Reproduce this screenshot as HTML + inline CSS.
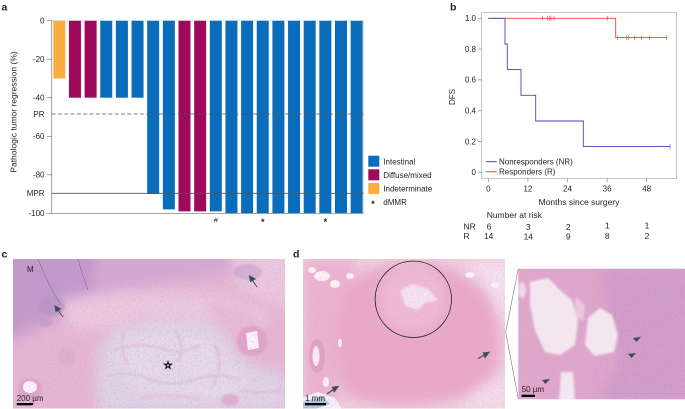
<!DOCTYPE html>
<html><head><meta charset="utf-8"><style>
html,body{margin:0;padding:0;background:#fff;}
svg{display:block;}
text{font-family:"Liberation Sans",Arial,sans-serif;fill:#231f20;}
</style></head><body>
<svg width="685" height="409" viewBox="0 0 685 409" xmlns="http://www.w3.org/2000/svg">
<defs>
  <filter id="b1" x="-20%" y="-20%" width="140%" height="140%"><feGaussianBlur stdDeviation="1"/></filter>
  <filter id="b3" x="-20%" y="-20%" width="140%" height="140%"><feGaussianBlur stdDeviation="3"/></filter>
  <filter id="b6" x="-20%" y="-20%" width="140%" height="140%"><feGaussianBlur stdDeviation="6"/></filter>
  <filter id="tex" x="0" y="0" width="100%" height="100%">
    <feTurbulence type="fractalNoise" baseFrequency="0.55" numOctaves="2" seed="4"/>
    <feColorMatrix type="matrix" values="0 0 0 0 0.62  0 0 0 0 0.35  0 0 0 0 0.62  3 0 0 0 -1.35"/>
  </filter>
  <filter id="dots" x="0" y="0" width="100%" height="100%">
    <feTurbulence type="fractalNoise" baseFrequency="0.9" numOctaves="1" seed="9"/>
    <feColorMatrix type="matrix" values="0 0 0 0 0.45  0 0 0 0 0.25  0 0 0 0 0.58  3 0 0 0 -1.5"/>
  </filter>
  <linearGradient id="gfade" x1="0" y1="0" x2="1" y2="0">
    <stop offset="0" stop-color="#fff" stop-opacity="0.15"/>
    <stop offset="0.4" stop-color="#fff" stop-opacity="0.4"/>
    <stop offset="0.6" stop-color="#fff" stop-opacity="1"/>
    <stop offset="1" stop-color="#fff" stop-opacity="1"/>
  </linearGradient>
  <mask id="mfade"><rect x="518" y="268" width="168" height="132" fill="url(#gfade)"/></mask>
  <clipPath id="cc"><rect x="13" y="259" width="272" height="149.5"/></clipPath>
  <clipPath id="cd1"><rect x="303" y="259" width="202" height="149.5"/></clipPath>
  <clipPath id="cd2"><rect x="518.3" y="268.7" width="166.7" height="130.6"/></clipPath>
</defs>

<!-- ============ Panel a ============ -->
<text x="1.5" y="10.5" font-size="10.5" font-weight="bold">a</text>
<g>
<rect x="53.3" y="20.7" width="12" height="57.8" fill="#f9ae3d"/>
<rect x="68.95" y="20.7" width="12" height="77" fill="#9e0a5b"/>
<rect x="84.6" y="20.7" width="12" height="77" fill="#9e0a5b"/>
<rect x="100.25" y="20.7" width="12" height="77" fill="#0a6dbb"/>
<rect x="115.9" y="20.7" width="12" height="77" fill="#0a6dbb"/>
<rect x="131.55" y="20.7" width="12" height="77" fill="#0a6dbb"/>
<rect x="147.2" y="20.7" width="12" height="173.3" fill="#0a6dbb"/>
<rect x="162.85" y="20.7" width="12" height="188.7" fill="#0a6dbb"/>
<rect x="178.5" y="20.7" width="12" height="190.7" fill="#9e0a5b"/>
<rect x="194.15" y="20.7" width="12" height="190.7" fill="#9e0a5b"/>
<rect x="209.8" y="20.7" width="12" height="190.7" fill="#0a6dbb"/>
<rect x="225.45" y="20.7" width="12" height="192.6" fill="#0a6dbb"/>
<rect x="241.1" y="20.7" width="12" height="192.6" fill="#0a6dbb"/>
<rect x="256.75" y="20.7" width="12" height="192.6" fill="#0a6dbb"/>
<rect x="272.4" y="20.7" width="12" height="192.6" fill="#0a6dbb"/>
<rect x="288.05" y="20.7" width="12" height="192.6" fill="#0a6dbb"/>
<rect x="303.7" y="20.7" width="12" height="192.6" fill="#0a6dbb"/>
<rect x="319.35" y="20.7" width="12" height="192.6" fill="#0a6dbb"/>
<rect x="335" y="20.7" width="12" height="192.6" fill="#0a6dbb"/>
<rect x="350.65" y="20.7" width="12" height="192.6" fill="#0a6dbb"/>
</g>
<line x1="51.7" y1="20.5" x2="363.5" y2="20.5" stroke="#c8c8c8" stroke-width="0.6"/>
<line x1="363.5" y1="20.5" x2="363.5" y2="213.3" stroke="#c8c8c8" stroke-width="0.6"/>
<line x1="51.7" y1="20.5" x2="51.7" y2="213.5" stroke="#888" stroke-width="0.8"/>
<line x1="51.7" y1="213.5" x2="363.5" y2="213.5" stroke="#888" stroke-width="0.8"/>
<line x1="51.7" y1="114" x2="363.5" y2="114" stroke="#555" stroke-width="0.8" stroke-dasharray="4,2.3"/>
<line x1="51.7" y1="193.3" x2="363.5" y2="193.3" stroke="#555" stroke-width="0.8"/>
<g stroke="#777" stroke-width="0.7">
<line x1="47" y1="20.7" x2="51.7" y2="20.7"/>
<line x1="47" y1="59.2" x2="51.7" y2="59.2"/>
<line x1="47" y1="97.7" x2="51.7" y2="97.7"/>
<line x1="47" y1="136.3" x2="51.7" y2="136.3"/>
<line x1="47" y1="174.8" x2="51.7" y2="174.8"/>
<line x1="47" y1="213.3" x2="51.7" y2="213.3"/>
</g>
<g font-size="8" text-anchor="end">
<text x="44.5" y="23.5">0</text>
<text x="44.5" y="62">-20</text>
<text x="44.5" y="100.5">-40</text>
<text x="44.5" y="117">PR</text>
<text x="44.5" y="139">-60</text>
<text x="44.5" y="177.6">-80</text>
<text x="44.5" y="196.2">MPR</text>
<text x="44.5" y="216.2">-100</text>
</g>
<text transform="translate(16.5,112) rotate(-90)" font-size="8.5" text-anchor="middle">Pathologic tumor regression (%)</text>
<text x="215.8" y="222.5" font-size="7.5" text-anchor="middle">#</text>
<g font-size="9" font-weight="bold" text-anchor="middle">
<text x="262.75" y="225">*</text>
<text x="325.35" y="225">*</text>
</g>
<rect x="368.3" y="155.7" width="11" height="11" fill="#0a6dbb"/>
<rect x="368.3" y="169.3" width="11" height="11" fill="#9e0a5b"/>
<rect x="368.3" y="183" width="11" height="11" fill="#f9ae3d"/>
<g font-size="8">
<text x="383.3" y="164.3">Intestinal</text>
<text x="383.3" y="178">Diffuse/mixed</text>
<text x="383.3" y="191.6">Indeterminate</text>
<text x="371.3" y="207" font-size="9" font-weight="bold">*</text>
<text x="383.3" y="204.8">dMMR</text>
</g>

<!-- ============ Panel b ============ -->
<text x="450" y="10.5" font-size="10.5" font-weight="bold">b</text>
<rect x="481.7" y="12.7" width="195" height="165.6" fill="none" stroke="#aaa" stroke-width="0.7"/>
<g stroke="#888" stroke-width="0.7">
<line x1="478" y1="18.3" x2="481.7" y2="18.3"/>
<line x1="478" y1="49.1" x2="481.7" y2="49.1"/>
<line x1="478" y1="79.9" x2="481.7" y2="79.9"/>
<line x1="478" y1="110.7" x2="481.7" y2="110.7"/>
<line x1="478" y1="141.5" x2="481.7" y2="141.5"/>
<line x1="478" y1="172.3" x2="481.7" y2="172.3"/>
<line x1="488.3" y1="178.3" x2="488.3" y2="182"/>
<line x1="527.9" y1="178.3" x2="527.9" y2="182"/>
<line x1="567.5" y1="178.3" x2="567.5" y2="182"/>
<line x1="607.1" y1="178.3" x2="607.1" y2="182"/>
<line x1="646.7" y1="178.3" x2="646.7" y2="182"/>
</g>
<g font-size="8" text-anchor="end">
<text x="476" y="21.1">1.0</text>
<text x="476" y="51.9">0.8</text>
<text x="476" y="82.7">0.6</text>
<text x="476" y="113.5">0.4</text>
<text x="476" y="144.3">0.2</text>
<text x="476" y="175.1">0</text>
</g>
<g font-size="8" text-anchor="middle">
<text x="488.3" y="191.3">0</text>
<text x="527.9" y="191.3">12</text>
<text x="567.5" y="191.3">24</text>
<text x="607.1" y="191.3">36</text>
<text x="646.7" y="191.3">48</text>
</g>
<text x="579" y="205" font-size="8.5" text-anchor="middle">Months since surgery</text>
<text transform="translate(455,97) rotate(-90)" font-size="8" text-anchor="middle">DFS</text>
<path d="M488.3 18.3 H615.7 V37.6 H666.7" fill="none" stroke="#ff3b3b" stroke-width="0.9"/>
<path d="M488.3 18.3 H505 V44 H507.3 V69.6 H521 V95.3 H535.7 V121 H583.3 V146.6 H670" fill="none" stroke="#4646ad" stroke-width="0.9"/>
<g stroke="#ff3b3b" stroke-width="0.6">
<line x1="542.3" y1="15.8" x2="542.3" y2="20.8"/>
<line x1="547.7" y1="15.8" x2="547.7" y2="20.8"/>
<line x1="549.3" y1="15.8" x2="549.3" y2="20.8"/>
<line x1="550.9" y1="15.8" x2="550.9" y2="20.8"/>
<line x1="554" y1="15.8" x2="554" y2="20.8"/>
<line x1="607.3" y1="15.8" x2="607.3" y2="20.8"/>
<line x1="617.7" y1="35.1" x2="617.7" y2="40.1"/>
<line x1="626.7" y1="35.1" x2="626.7" y2="40.1"/>
<line x1="628.3" y1="35.1" x2="628.3" y2="40.1"/>
<line x1="634.3" y1="35.1" x2="634.3" y2="40.1"/>
<line x1="641.7" y1="35.1" x2="641.7" y2="40.1"/>
<line x1="649.3" y1="35.1" x2="649.3" y2="40.1"/>
<line x1="666.7" y1="35.1" x2="666.7" y2="40.1"/>
</g>
<line x1="670" y1="144.1" x2="670" y2="149.1" stroke="#4646ad" stroke-width="0.6"/>
<line x1="486" y1="161.7" x2="496.7" y2="161.7" stroke="#4646ad" stroke-width="1"/>
<line x1="486" y1="171.7" x2="496.7" y2="171.7" stroke="#ff3b3b" stroke-width="1"/>
<g font-size="8">
<text x="499" y="164.5">Nonresponders (NR)</text>
<text x="499" y="174.5">Responders (R)</text>
</g>
<g font-size="8.5">
<text x="486.7" y="218">Number at risk</text>
<text x="463.5" y="229.3">NR</text>
<text x="463.5" y="239">R</text>
</g>
<g font-size="8.5" text-anchor="middle">
<text x="489" y="229.3">6</text>
<text x="528.3" y="229.8">3</text>
<text x="568.3" y="230">2</text>
<text x="607.3" y="228.5">1</text>
<text x="647" y="228.5">1</text>
<text x="488.7" y="239">14</text>
<text x="528.3" y="239.5">14</text>
<text x="568.3" y="239.5">9</text>
<text x="607.3" y="238.8">8</text>
<text x="647" y="238.8">2</text>
</g>

<!-- ============ Panel c ============ -->
<text x="1.5" y="257.5" font-size="10.5" font-weight="bold">c</text>
<g clip-path="url(#cc)">
  <rect x="13" y="259" width="272" height="150" fill="#e6b6d3"/>
  <g filter="url(#b6)">
    <polygon points="0,250 245,250 238,272 170,283 120,292 80,300 60,318 20,340 0,345" fill="#d4a8d2"/>
    <polygon points="0,250 98,250 92,290 70,305 42,322 0,340" fill="#c199c9"/>
    <polygon points="230,250 295,250 295,310 260,300 235,285" fill="#ebc8de"/>
    <polygon points="60,300 130,290 200,292 240,300 270,315 260,330 200,318 140,318 100,330 70,330" fill="#ecc9df"/>
    <path d="M100 345 L112 328 L150 320 L205 320 L225 330 L240 355 L262 368 L285 372 L290 412 L100 412 L94 385 Z" fill="#dfd3e5"/>
    <path d="M120 340 L165 330 L205 335 L232 360 L250 385 L230 400 L165 398 L125 385 L115 360 Z" fill="#e3dae9"/>
    <path d="M205 300 L245 310 L265 330 L240 340 L215 325 Z" fill="#e7b9d5"/>
  </g>
  <g stroke="#e4b3d1" stroke-width="1.8" fill="none" opacity="0.75" filter="url(#b1)">
    <path d="M112 350 Q135 342 160 348 Q180 356 200 345"/>
    <path d="M108 376 Q130 370 152 380 Q175 388 200 378 Q220 372 240 380"/>
    <path d="M140 398 Q170 392 200 400"/>
    <path d="M175 330 Q185 345 178 362"/>
    <path d="M215 345 Q225 365 212 388"/>
    <path d="M240 390 Q258 394 282 390"/>
    <path d="M125 330 Q118 348 128 365"/>
  </g>
  <g filter="url(#b1)">
    <ellipse cx="52" cy="306" rx="13" ry="10" fill="#b193c4" opacity="0.6"/>
    <ellipse cx="46" cy="322" rx="7" ry="5" fill="#b89ac6" opacity="0.5"/>
    <ellipse cx="248" cy="272" rx="14" ry="8" fill="#bb9fc9" opacity="0.55"/>
    <ellipse cx="252" cy="341" rx="15" ry="15" fill="#e0a3c8"/>
    <ellipse cx="67" cy="357" rx="9" ry="9" fill="#dcaccd" opacity="0.7"/>
    <ellipse cx="30" cy="389" rx="12" ry="11" fill="#dca6c9"/>
    <ellipse cx="230" cy="400" rx="9" ry="6" fill="#dca6c9" opacity="0.8"/>
  </g>
  <path d="M246 333 L257 331 L259 348 L248 350 Z" fill="#fbf6fa"/>
  <ellipse cx="30" cy="387" rx="7" ry="6" fill="#fbf6fa"/>
  <path d="M38 259 Q48 285 61 305" stroke="#7d4f8e" stroke-width="0.5" fill="none"/>
  <path d="M78 259 Q82 275 88 290" stroke="#7d4f8e" stroke-width="0.5" fill="none"/>
  <rect x="13" y="259" width="272" height="150" filter="url(#tex)" opacity="0.35"/>
</g>
<text x="27" y="272" font-size="8" fill="#231f20">M</text>
<g stroke="#3f4d57" stroke-width="1" fill="#3f4d57">
  <line x1="63" y1="317" x2="57" y2="309"/>
  <polygon points="55,306 60.5,309 56,311.5"/>
  <line x1="257" y1="287" x2="251.5" y2="279"/>
  <polygon points="249.5,276 255,279 250.5,281.5"/>
</g>
<text x="168" y="368.5" font-size="10" text-anchor="middle" fill="#fff" stroke="#111" stroke-width="0.8">☆</text>
<rect x="16.7" y="403" width="16.5" height="2.3" fill="#000"/>
<text x="16.7" y="401" font-size="8" fill="#231f20">200 µm</text>

<!-- ============ Panel d ============ -->
<text x="293" y="257.5" font-size="10.5" font-weight="bold">d</text>
<g clip-path="url(#cd1)">
  <rect x="303" y="259" width="202" height="150" fill="#f0d0e1"/>
  <g filter="url(#b6)">
    <polygon points="303,259 360,259 345,285 340,330 338,408 303,408" fill="#ebb3cf"/>
    <path d="M350 280 Q380 262 425 262 Q470 270 490 300 Q505 330 498 365 Q485 395 440 402 Q380 410 345 395 Q335 360 338 320 Q340 295 350 280 Z" fill="#eaa8c8"/>
    <path d="M470 262 L510 262 L510 330 L495 300 Z" fill="#f5e2ec"/>
    <path d="M470 395 L510 370 L510 412 L460 412 Z" fill="#f3dce8"/>
  </g>
  <ellipse cx="413" cy="299" rx="34" ry="34" fill="#eebad3" filter="url(#b6)"/>
  <path d="M400 290 L412 284 L428 289 L438 300 L425 303 L418 310 L405 306 Z" fill="#f5e2ed" filter="url(#b1)"/>
  <g fill="#fbf2f7">
    <ellipse cx="322" cy="276" rx="8" ry="5"/>
    <ellipse cx="335" cy="284" rx="5" ry="4"/>
    <ellipse cx="350" cy="276" rx="4" ry="3"/>
    <ellipse cx="312" cy="270" rx="4" ry="3"/>
    <ellipse cx="470" cy="275" rx="5" ry="3"/>
    <ellipse cx="495" cy="285" rx="4" ry="3"/>
    <ellipse cx="340" cy="343" rx="2" ry="4"/>
    <ellipse cx="326" cy="382" rx="3" ry="5"/>
  </g>
  <ellipse cx="317" cy="356" rx="8" ry="17" fill="#e3a2c3"/>
  <ellipse cx="316" cy="356" rx="3.5" ry="10" fill="#f8ecf3"/>
  <polygon points="303,397 318,392 335,398 342,409 303,409" fill="#f6f1f5"/>
  <polygon points="303,402 322,396 330,404 315,409 303,409" fill="#7fa9c6" opacity="0.6"/>
  <rect x="303" y="259" width="202" height="150" filter="url(#tex)" opacity="0.25"/>
</g>
<circle cx="413.3" cy="299.3" r="38.2" fill="none" stroke="#222" stroke-width="0.8"/>
<g stroke="#3f4d57" stroke-width="1.1" fill="#3f4d57">
  <line x1="478" y1="358.5" x2="486" y2="354"/>
  <polygon points="489,352.3 485,357.5 483.5,353"/>
  <line x1="327" y1="394" x2="335" y2="388.5"/>
  <polygon points="338,386.5 334.3,391.7 332.5,387.3"/>
</g>
<rect x="305" y="403" width="21" height="2.3" fill="#000"/>
<text x="305" y="401" font-size="8" fill="#231f20">1 mm</text>

<polyline points="518.3,268.7 505.7,332 518.3,399" fill="none" stroke="#777" stroke-width="0.6"/>

<g clip-path="url(#cd2)">
  <rect x="518" y="268" width="168" height="132" fill="#dfa7cb"/>
  <g filter="url(#b6)">
    <polygon points="600,268 690,268 690,400 600,400 620,360 610,330" fill="#d29ec9"/>
  </g>
  <rect x="518" y="268" width="168" height="132" filter="url(#dots)" opacity="0.75" mask="url(#mfade)"/>
  <g filter="url(#b1)">
    <path d="M530 282 L548 278 L560 290 L572 300 L578 320 L575 345 L560 355 L545 352 L535 330 L530 305 Z" fill="#f4e6ef"/>
    <path d="M588 318 L600 308 L612 315 L618 335 L614 352 L595 356 L585 345 Z" fill="#f4e6ef"/>
    <path d="M575 296 L585 305 L583 322 L576 315 Z" fill="#ebc8dc"/>
    <path d="M561 372 L573 372 L575 402 L559 402 Z" fill="#f4e6ef"/>
    <ellipse cx="522" cy="290" rx="4" ry="8" fill="#efd8e6"/>
  </g>
</g>
<g fill="#3f4d57">
  <polygon points="633,338 641,337 636.5,342"/>
  <polygon points="628,354 636,353 631.5,358"/>
  <polygon points="542,380 550,379 545.5,384"/>
</g>
<rect x="521.7" y="394.7" width="13.3" height="2.3" fill="#000"/>
<text x="521.7" y="392" font-size="8" fill="#231f20">50 µm</text>
</svg>
</body></html>
